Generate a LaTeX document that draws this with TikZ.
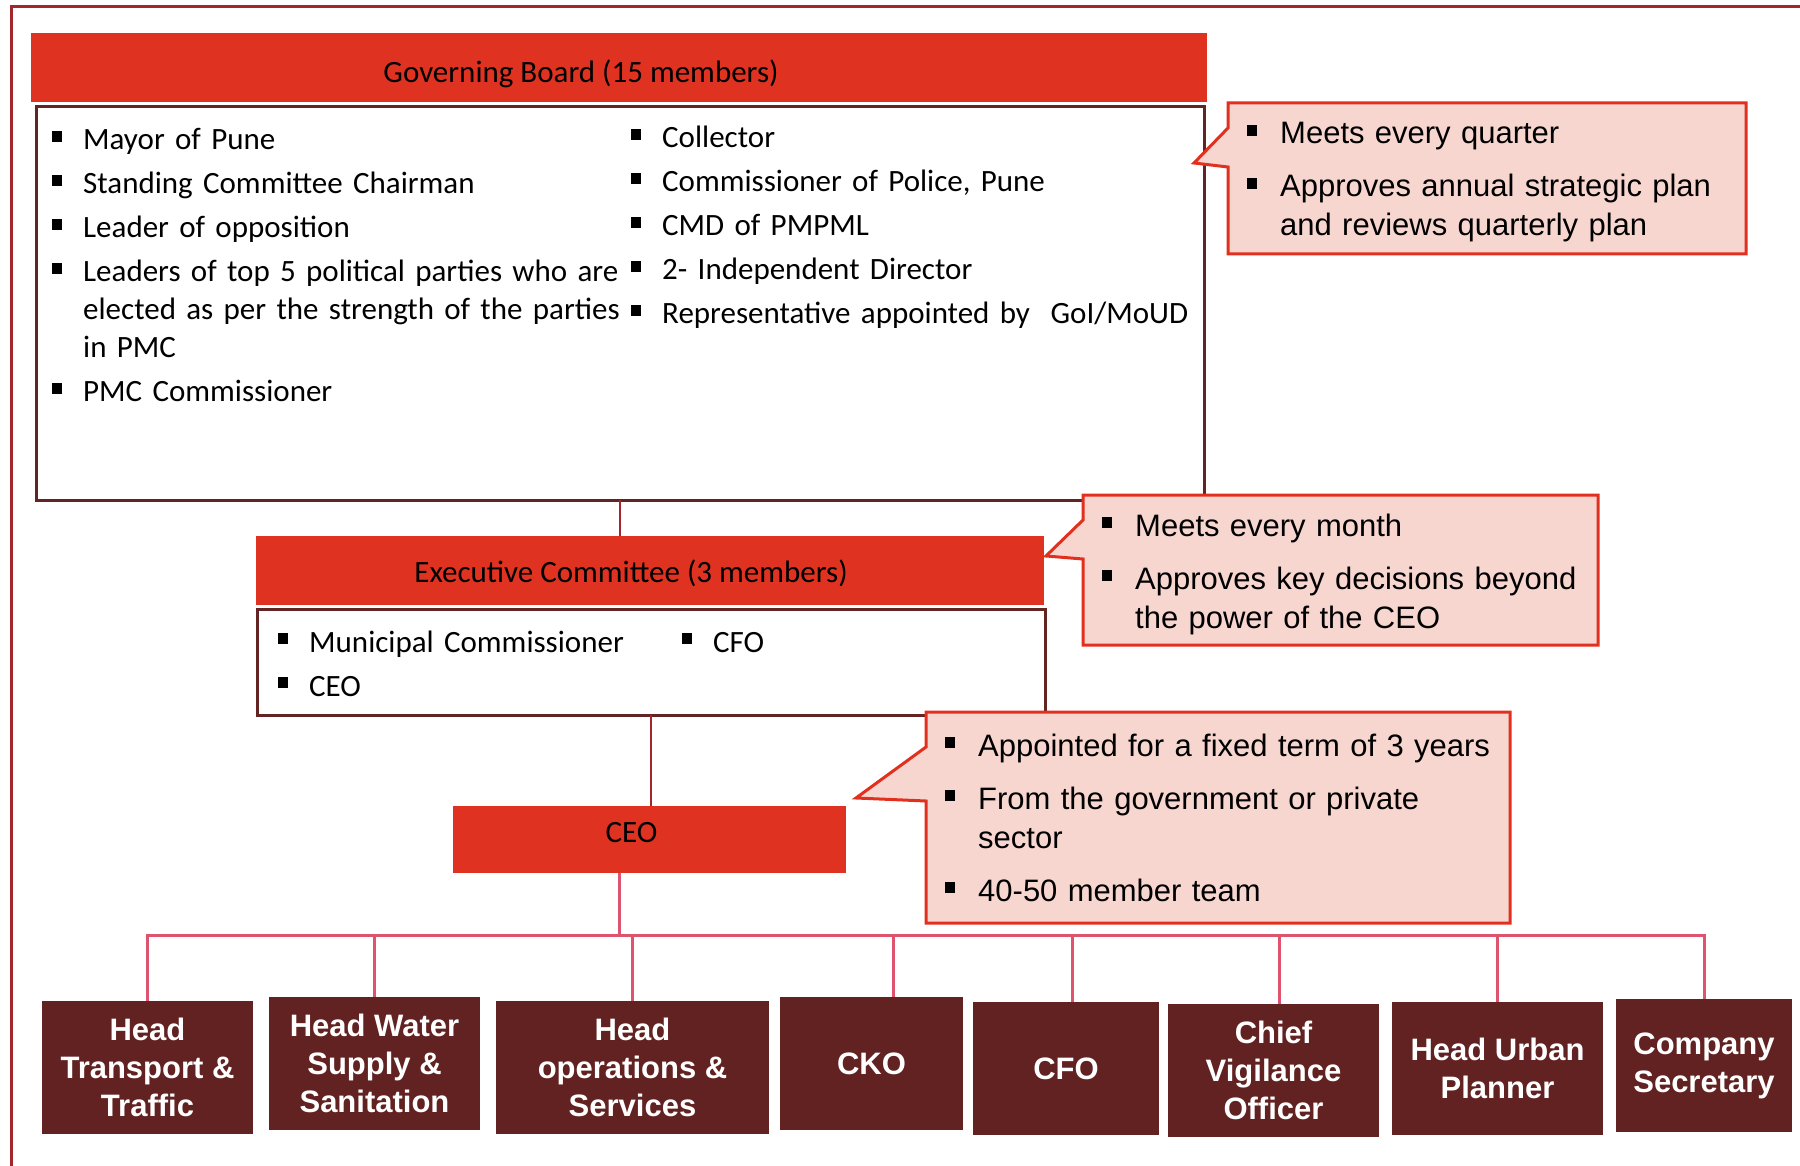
\documentclass[tikz,border=0pt]{standalone}
\usepackage{fontspec}
\setmainfont{Carlito}
\newfontfamily\arialfont{Liberation Sans}
\usepackage{tikz}
\usetikzlibrary{positioning}

\definecolor{framered}{RGB}{165,38,42}
\definecolor{headred}{RGB}{224,50,32}
\definecolor{boxbrown}{RGB}{99,37,35}
\definecolor{notefill}{RGB}{248,214,208}
\definecolor{noteline}{RGB}{226,48,30}
\definecolor{rolebrown}{RGB}{97,34,33}
\definecolor{buspink}{RGB}{222,84,110}

% square bullet with hanging text
\newcommand{\bulind}{31pt}
\newcommand{\sqbul}{\rule[8pt]{10pt}{11pt}}
\newcommand{\bitem}[1]{\hangindent=\bulind\hangafter=1\noindent\makebox[\bulind][l]{\sqbul}#1\par}

\tikzset{
    %Define style for the red title bars
    headbar/.style={
           rectangle,
           fill=headred,
           inner sep=0pt, outer sep=0pt,
           anchor=north west},
    headtext/.style={
           font=\fontsize{31}{38}\selectfont,
           text=black,
           inner sep=0pt,
           anchor=base},
    %Define style for the member boxes
    memberbox/.style={
           rectangle,
           draw=boxbrown, line width=3pt,
           inner sep=0pt, outer sep=0pt,
           anchor=north west},
    memberlist/.style={
           text width=620pt,
           inner sep=0pt,
           anchor=base west,
           font=\fontsize{31}{38}\selectfont,
           execute at begin node={\setlength{\parskip}{6pt}}},
    %Define style for the notes
    notearea/.style={
           rectangle,
           inner sep=0pt, outer sep=0pt,
           anchor=north west},
    noteshape/.style={
           fill=notefill,
           draw=noteline, line width=3pt,
           line join=miter},
    notelist/.style={
           text width=600pt,
           inner sep=0pt,
           anchor=base west,
           font=\arialfont\fontsize{31}{39}\selectfont,
           execute at begin node={\def\bulind{33pt}\setlength{\parskip}{14pt}}},
    %Define style for the bottom roles
    rolebox/.style={
           rectangle,
           fill=rolebrown,
           text=white,
           font=\arialfont\bfseries\fontsize{31}{38}\selectfont,
           align=center,
           inner sep=0pt, outer sep=0pt,
           minimum height=133pt,
           anchor=north west}
}

\begin{document}
\begin{tikzpicture}[x=1pt,y=-1pt,
  link/.style={draw=framered, line width=2.5pt},
  bus/.style={draw=buspink, line width=3pt}]
\useasboundingbox (0,0) rectangle (1800,1166);
\draw[framered, line width=3pt] (11,1166) -- (11,7) -- (1800,7);

% governing board
\node[headbar, minimum width=1176pt, minimum height=69pt] (gbhead) at (31,33) {};
\node[headtext] (gbtitle) at ([xshift=-38pt,yshift=-50pt]gbhead.north) {Governing Board (15 members)};
\node[memberbox, minimum width=1168pt, minimum height=393pt] (gbbox) at (36,107) {};
\node[memberlist] (gbleft) at ([xshift=16pt,yshift=-43pt]gbbox.north west) {
  \bitem{Mayor of Pune}
  \bitem{Standing Committee Chairman}
  \bitem{Leader of opposition}
  \bitem{Leaders of top 5 political parties who are\newline elected as per the strength of the parties\newline in PMC}
  \bitem{PMC Commissioner}};
\node[memberlist] (gbright) at ([xshift=595pt,yshift=-41pt]gbbox.north west) {
  \bitem{Collector}
  \bitem{Commissioner of Police, Pune}
  \bitem{CMD of PMPML}
  \bitem{2- Independent Director}
  \bitem{Representative appointed by\ \ GoI/MoUD}};

% executive committee
\node[headbar, minimum width=788pt, minimum height=69pt] (exechead) at (256,536) {};
\node[headtext] (exectitle) at ([xshift=-19pt,yshift=-46pt]exechead.north) {Executive Committee (3 members)};
\node[memberbox, minimum width=788pt, minimum height=106pt] (execbox) at (257,609) {};
\node[memberlist] (execleft) at ([xshift=21pt,yshift=-43pt]execbox.north west) {
  \bitem{Municipal Commissioner}
  \bitem{CEO}};
\node[memberlist] (execright) at ([xshift=425pt,yshift=-43pt]execbox.north west) {
  \bitem{CFO}};

% ceo
\node[headbar, minimum width=393pt, minimum height=67pt] (ceo) at (453,806) {};
\node[headtext] (ceotitle) at ([xshift=-18pt,yshift=-36pt]ceo.north) {CEO};

\draw[link] (gbbox.south) -- (gbbox.south |- exechead.north);
\draw[link] (execbox.south) -- (execbox.south |- ceo.north);

% notes
\coordinate (tip1) at (1194,163);
\node[notearea, minimum width=518pt, minimum height=151pt] (note1) at (1228,103) {};
\draw[noteshape] (note1.north west) -- (note1.north east) -- (note1.south east) -- (note1.south west)
  -- ([yshift=-64pt]note1.north west) -- (tip1) -- ([yshift=-25pt]note1.north west) -- cycle;
\node[notelist] (note1txt) at ([xshift=19pt,yshift=-41pt]note1.north west) {
  \bitem{Meets every quarter}
  \bitem{Approves annual strategic plan\newline and reviews quarterly plan}};

\coordinate (tip2) at (1046,556);
\node[notearea, minimum width=515pt, minimum height=150pt] (note2) at (1083,495) {};
\draw[noteshape] (note2.north west) -- (note2.north east) -- (note2.south east) -- (note2.south west)
  -- ([yshift=-64pt]note2.north west) -- (tip2) -- ([yshift=-25pt]note2.north west) -- cycle;
\node[notelist] (note2txt) at ([xshift=19pt,yshift=-41pt]note2.north west) {
  \bitem{Meets every month}
  \bitem{Approves key decisions beyond\newline the power of the CEO}};

\coordinate (tip3) at (856,798);
\node[notearea, minimum width=584pt, minimum height=211pt] (note3) at (926,712) {};
\draw[noteshape] (note3.north west) -- (note3.north east) -- (note3.south east) -- (note3.south west)
  -- ([yshift=-89pt]note3.north west) -- (tip3) -- ([yshift=-35pt]note3.north west) -- cycle;
\node[notelist] (note3txt) at ([xshift=19pt,yshift=-44pt]note3.north west) {
  \bitem{Appointed for a fixed term of 3 years}
  \bitem{From the government or private\newline sector}
  \bitem{40-50 member team}};

% heads under the ceo
\node[rolebox, minimum width=211pt] (b1) at (42,1001) {Head\\Transport \&\\Traffic};
\node[rolebox, minimum width=211pt] (b2) at (269,997) {Head Water\\Supply \&\\Sanitation};
\node[rolebox, minimum width=273pt] (b3) at (496,1001) {Head\\operations \&\\Services};
\node[rolebox, minimum width=183pt] (b4) at (780,997) {CKO};
\node[rolebox, minimum width=186pt] (b5) at (973,1002) {CFO};
\node[rolebox, minimum width=211pt] (b6) at (1168,1004) {Chief\\Vigilance\\Officer};
\node[rolebox, minimum width=211pt] (b7) at (1392,1002) {Head Urban\\Planner};
\node[rolebox, minimum width=176pt] (b8) at (1616,999) {Company\\Secretary};

\coordinate (busjoint) at ([xshift=-30pt,yshift=-62pt]ceo.south);
\draw[bus] ([xshift=-30pt]ceo.south) -- (busjoint);
\foreach \b/\s in {b1/0,b2/0,b3/0,b4/22,b5/6,b6/6,b7/0,b8/0}
  \draw[bus] (busjoint) -| ([xshift=\s pt]\b.north);
\end{tikzpicture}
\end{document}
